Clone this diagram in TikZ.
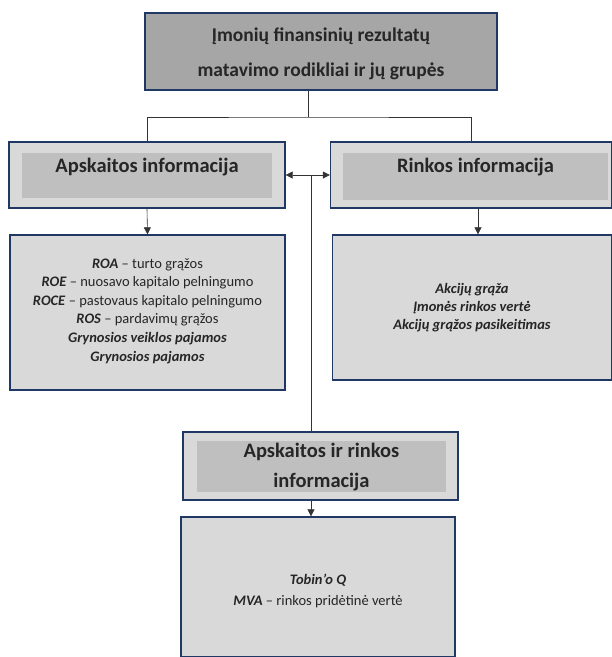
\documentclass[tikz,border=0pt]{standalone}
\usepackage{fontspec}
\setmainfont{Carlito}
\usepackage{tikz}
\usetikzlibrary{positioning, arrows.meta, calc}
\definecolor{frameNavy} {HTML}{1F3864}
\definecolor{fillTop}   {HTML}{A6A6A6}
\definecolor{fillLight} {HTML}{D9D9D9}
\definecolor{fillInner} {HTML}{BFBFBF}
\tikzset{
  groupbox/.style={draw=frameNavy, line width=1.3pt, fill=fillLight, inner sep=0pt},
  innerbox/.style={fill=fillInner, inner sep=0pt},
  headtext/.style={font=\fontsize{20.5}{30}\selectfont\bfseries, align=center, text=black!85},
  listtext/.style={font=\fontsize{14.5}{18.6}\selectfont, align=center, text=black!85},
  link/.style={line width=0.6pt, draw=black!80},
  tip/.style={-{Triangle[length=7pt, width=7pt]}},
  twotip/.style={{Triangle[length=7pt, width=7pt]}-{Triangle[length=7pt, width=7pt]}},
}

\begin{document}
\begin{tikzpicture}[x=1pt, y=-1pt]
  \useasboundingbox (0,0) rectangle (612,657);

  % title
  \node[groupbox, fill=fillTop, minimum width=352pt, minimum height=77pt] (title) at (321, 51.5) {};
  \node[headtext, font=\fontsize{19.5}{35}\selectfont\bfseries] (titlet) at (321, 54)
       {Įmonių finansinių rezultatų\\matavimo rodikliai ir jų grupės};

  % group headers
  \node[groupbox, minimum width=276pt, minimum height=66pt] (acc) at (147, 175) {};
  \node[innerbox, minimum width=250pt, minimum height=45pt] (accin) at (147, 175.5) {};
  \node[headtext] (acct) at (147, 167) {Apskaitos informacija};

  \node[groupbox, minimum width=281pt, minimum height=66pt] (mkt) at (471, 175) {};
  \node[innerbox, minimum width=265pt, minimum height=47pt] (mktin) at (475.5, 176.5) {};
  \node[headtext] (mktt) at (475.5, 167) {Rinkos informacija};

  \node[groupbox, minimum width=275pt, minimum height=68pt] (mix) at (320.5, 466) {};
  \node[innerbox, minimum width=249pt, minimum height=51pt] (mixin) at (321.5, 466.5) {};
  \node[headtext] (mixt) at (321.5, 467) {Apskaitos ir rinkos\\informacija};

  % indicator lists
  \node[groupbox, minimum width=275pt, minimum height=155pt] (accbody) at (147.5, 312.5) {};
  \node[listtext] (accl) at (147.5, 311)
       {\textbf{\textit{ROA}} -- turto grąžos\\
        \textbf{\textit{ROE}} -- nuosavo kapitalo pelningumo\\
        \textbf{\textit{ROCE}} -- pastovaus kapitalo pelningumo\\
        \textbf{\textit{ROS}} -- pardavimų grąžos\\
        \textbf{\textit{Grynosios veiklos pajamos}}\\
        \textbf{\textit{Grynosios pajamos}}};

  \node[groupbox, minimum width=279pt, minimum height=145pt] (mktbody) at (472, 307.5) {};
  \node[listtext, font=\fontsize{14.5}{18}\selectfont] (mktl) at (472, 308)
       {\textbf{\textit{Akcijų grąža}}\\
        \textbf{\textit{Įmonės rinkos vertė}}\\
        \textbf{\textit{Akcijų grąžos pasikeitimas}}};

  \node[groupbox, minimum width=274pt, minimum height=140pt] (mixbody) at (318, 587) {};
  \node[listtext, font=\fontsize{14.5}{21}\selectfont] (mixl) at (318, 591)
       {\textbf{\textit{Tobin’o Q}}\\
        \textbf{\textit{MVA}} -- rinkos pridėtinė vertė};

  % connectors
  \coordinate (split) at (308, 117);
  \coordinate (hub) at (311, 175);
  \coordinate (mktdrop) at (478, 0);
  \draw[link] (title.south -| split) -- (split);
  \draw[link] (acc.north) |- (split) -| (mkt.north);
  \draw[link, twotip] (acc.east) -- (mkt.west);
  \draw[link] (hub) -- (hub |- mix.north);
  \draw[link, tip] (acc.south) -- (accbody.north);
  \draw[link, tip] (mkt.south -| mktdrop) -- (mktbody.north -| mktdrop);
  \draw[link, tip] (hub |- mix.south) -- (hub |- mixbody.north);
\end{tikzpicture}
\end{document}
